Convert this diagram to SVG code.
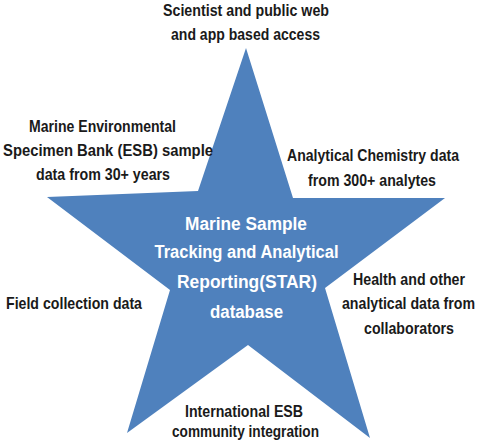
<svg xmlns="http://www.w3.org/2000/svg" width="480" height="441" viewBox="0 0 480 441">
<style>
.t{font-family:"Liberation Sans Narrow","Liberation Sans",Arial,sans-serif;font-weight:bold;font-size:16.5px;fill:#1a1a1a;text-anchor:middle}
.w{fill:#ffffff;font-size:17.5px}
</style>
<rect width="480" height="441" fill="#ffffff"/>
<g id="star">
<polygon points="246,48 293,198 445,198 325,288 370,438 248,345 127,433 170,290 47,197 198,191" fill="#4f81bd"/>
<text class="t w" x="246" y="230" textLength="122" lengthAdjust="spacingAndGlyphs">Marine Sample</text>
<text class="t w" x="246.5" y="258" textLength="184" lengthAdjust="spacingAndGlyphs">Tracking and Analytical</text>
<text class="t w" x="247" y="288" textLength="140" lengthAdjust="spacingAndGlyphs">Reporting(STAR)</text>
<text class="t w" x="246.5" y="318" textLength="73" lengthAdjust="spacingAndGlyphs">database</text>
</g>
<g id="access">
<text class="t" x="246" y="16" textLength="166" lengthAdjust="spacingAndGlyphs">Scientist and public web</text>
<text class="t" x="245.5" y="40" textLength="149" lengthAdjust="spacingAndGlyphs">and app based access</text>
</g>
<g id="esb">
<text class="t" x="102.5" y="132" textLength="147" lengthAdjust="spacingAndGlyphs">Marine Environmental</text>
<text class="t" x="108" y="156" textLength="210" lengthAdjust="spacingAndGlyphs">Specimen Bank (ESB) sample</text>
<text class="t" x="103" y="180" textLength="134" lengthAdjust="spacingAndGlyphs">data from 30+ years</text>
</g>
<g id="chemistry">
<text class="t" x="373" y="161" textLength="172" lengthAdjust="spacingAndGlyphs">Analytical Chemistry data</text>
<text class="t" x="372" y="186" textLength="128" lengthAdjust="spacingAndGlyphs">from 300+ analytes</text>
</g>
<g id="field">
<text class="t" x="74" y="309" textLength="136" lengthAdjust="spacingAndGlyphs">Field collection data</text>
</g>
<g id="health">
<text class="t" x="409" y="285" textLength="112" lengthAdjust="spacingAndGlyphs">Health and other</text>
<text class="t" x="408.5" y="309" textLength="133" lengthAdjust="spacingAndGlyphs">analytical data from</text>
<text class="t" x="409" y="334" textLength="90" lengthAdjust="spacingAndGlyphs">collaborators</text>
</g>
<g id="international">
<text class="t" x="244" y="417" textLength="118" lengthAdjust="spacingAndGlyphs">International ESB</text>
<text class="t" x="245.5" y="437" textLength="147" lengthAdjust="spacingAndGlyphs">community integration</text>
</g>
</svg>
